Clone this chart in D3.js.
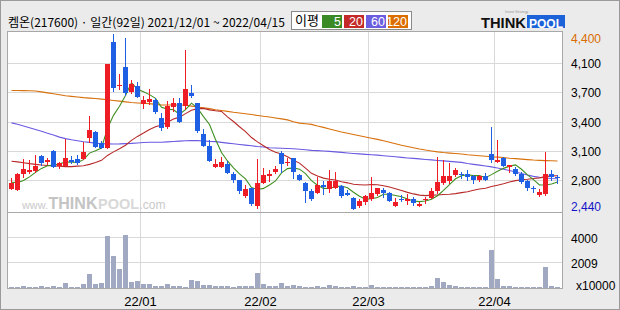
<!DOCTYPE html>
<meta charset="utf-8">
<script src="https://d3js.org/d3.v7.min.js"></script>
<style>
  body { margin: 0; background: #ebebeb; }
  svg { display: block; }
</style>
<div id="chart"></div>
<script>
// ---- data ----
var title = "켐온(217600) · 일간(92일) 2021/12/01 ~ 2022/04/15";

var opens  = [2664,2656,2832,2858,2869,3034,2963,3090,2922,2925,2985,3000,3003,3232,3306,3179,3120,4307,3820,4030,
              3754,3818,3616,3635,3661,3456,3362,3586,3624,3594,3739,3624,3280,3146,2914,2914,2941,2835,2765,2589,
              2672,2474,2735,2810,2854,3071,2959,3008,2821,2735,2645,2623,2709,2661,2679,2698,2619,2567,2474,2522,
              2552,2608,2653,2616,2474,2555,2533,2555,2477,2541,2567,2645,2735,2754,2821,2832,2832,2810,2765,2813,
              3056,2970,3008,2914,2888,2832,2754,2679,2597,2608,2832,2802];
var highs  = [2790,2840,2997,2985,3045,3048,3014,3097,2970,3221,3037,3045,3194,3485,3314,3200,4064,4400,3950,4358,
              3885,3866,3702,3784,3680,3519,3650,3687,3680,4221,3829,3624,3333,3213,2998,3019,2981,2858,2770,2709,
              2680,2998,2896,2877,2918,3093,3014,3014,2830,2740,2660,2795,2754,2877,2854,2709,2653,2580,2549,2597,
              2795,2680,2672,2630,2567,2597,2608,2574,2518,2578,2672,3026,2989,2960,2899,2858,2877,2821,2821,2847,
              3362,3213,3020,2935,2914,2858,2765,2698,2660,3082,2877,2821];
var lows   = [2660,2650,2802,2847,2860,2933,2947,2914,2903,2918,2960,2944,3000,3194,3138,3120,3120,3765,3780,3720,
              3736,3690,3568,3620,3510,3330,3350,3540,3414,3560,3695,3300,3140,2975,2910,2910,2840,2746,2616,2580,
              2480,2455,2730,2754,2840,2858,2933,2784,2760,2522,2540,2615,2611,2634,2670,2580,2595,2440,2466,2496,
              2545,2600,2578,2525,2470,2526,2499,2488,2470,2503,2560,2616,2725,2728,2815,2784,2765,2735,2754,2760,
              2963,2965,2920,2858,2825,2728,2653,2634,2586,2600,2765,2728];
var closes = [2735,2832,2888,2877,2918,2959,2985,2914,2959,3008,2963,2955,3078,3325,3138,3120,4064,3799,3829,3736,
              3837,3698,3664,3672,3523,3344,3594,3624,3418,3784,3706,3317,3149,2981,2944,2970,2847,2761,2642,2664,
              2493,2735,2821,2832,2891,2947,2970,2858,2765,2645,2552,2709,2686,2754,2754,2589,2600,2440,2530,2586,
              2616,2672,2623,2533,2518,2537,2552,2511,2496,2548,2645,2746,2810,2810,2877,2818,2802,2765,2806,2765,
              2989,2989,2925,2933,2832,2746,2672,2660,2634,2832,2802,2787];

// volume, x10000 shares
var volumes = [80,80,160,80,80,160,80,160,80,400,80,80,260,1050,280,400,4100,2570,1470,4180,
               480,560,320,320,160,160,320,160,160,80,640,560,240,240,160,160,160,80,160,160,
               160,1140,320,160,160,400,160,240,160,80,80,160,80,240,160,80,80,160,80,80,
               240,80,80,80,80,80,80,80,80,80,160,800,480,240,160,80,80,80,80,80,
               2980,670,160,160,80,80,80,80,80,1610,160,80];

// moving averages as drawn
var ma5   = [2740,2735,2760,2800,2850,2895,2925,2931,2947,2965,2966,2960,2993,3066,3092,3123,3345,3489,3590,3710,
             3853,3780,3753,3721,3679,3580,3559,3551,3501,3553,3625,3570,3475,3387,3219,3072,2978,2901,2833,2777,
             2681,2659,2671,2709,2754,2845,2892,2900,2886,2837,2758,2706,2671,2669,2691,2698,2677,2627,2583,2549,
             2554,2569,2605,2606,2592,2577,2553,2530,2523,2529,2550,2589,2649,2712,2778,2812,2823,2814,2814,2791,
             2825,2863,2895,2920,2934,2885,2822,2769,2709,2709,2720,2743];
var ma20  = [2975,2968,2958,2948,2940,2933,2928,2923,2920,2915,2915,2920,2925,2940,2960,2985,3040,3080,3115,3154,
             3209,3253,3291,3331,3361,3381,3411,3447,3469,3508,3545,3564,3567,3550,3540,3533,3472,3420,3361,3307,
             3240,3192,3149,3107,3076,3056,3025,2987,2954,2897,2839,2809,2786,2774,2765,2746,2733,2717,2712,2708,
             2714,2711,2701,2686,2667,2647,2626,2609,2595,2590,2595,2597,2603,2606,2612,2623,2634,2650,2664,2673,
             2691,2707,2722,2742,2758,2768,2774,2782,2789,2803,2811,2813];
var ma60  = [3405,3390,3370,3350,3330,3310,3288,3268,3245,3228,3215,3204,3194,3186,3178,3171,3169,3168,3169,3172,
             3175,3180,3185,3187,3187,3188,3192,3196,3200,3204,3208,3206,3201,3197,3195,3186,3178,3171,3163,3155,
             3148,3140,3134,3126,3123,3121,3118,3114,3110,3103,3097,3094,3090,3085,3080,3074,3068,3062,3057,3052,
             3048,3043,3037,3031,3025,3018,3012,3007,3001,2995,2990,2984,2979,2973,2968,2962,2950,2940,2931,2922,
             2912,2900,2885,2871,2855,2838,2820,2805,2795,2788,2782,2778];
var ma120 = [3768,3767,3766,3765,3762,3752,3741,3731,3720,3709,3701,3694,3687,3682,3677,3671,3663,3655,3648,3640,
             3633,3628,3624,3620,3612,3605,3605,3605,3605,3602,3592,3583,3574,3564,3552,3543,3533,3523,3515,3507,
             3498,3488,3478,3471,3460,3449,3438,3418,3402,3395,3388,3370,3354,3337,3320,3303,3289,3275,3261,3247,
             3233,3220,3205,3188,3171,3154,3140,3126,3112,3100,3090,3080,3072,3066,3061,3056,3048,3042,3036,3031,
             3025,3021,3016,3009,3004,2999,2993,2988,2985,2982,2980,2978];

var priceMin = 2440, priceMax = 4400;
var priceTickLabels = ["2,800","3,100","3,400","3,700","4,100"];
var volTickValues = [2009, 4018];
var volTickLabels = ["2009","4000"];
var monthStarts = [22, 42, 60, 81];
var monthLabels = ["22/01","22/02","22/03","22/04"];

var maNames  = ["5","20","60","120"];
var maColors = ["#3f8f22","#b82a2a","#6a5ae2","#d8700c"];
var maLegend = ["#3a8a26","#c42a2a","#6b5ee0","#dc6e00"];
var upColor = "#ee1c24", downColor = "#1f5fe3", volColor = "#a0a8c2";

// ---- layout ----
var W = 620, H = 310;
var plot = {left: 7, right: 562, top: 31, mid: 212, bottom: 288};

var svg = d3.select("#chart").append("svg")
    .attr("width", W).attr("height", H)
    .style("font-family", "'Liberation Sans', Arial, sans-serif");

svg.append("rect")
    .attr("x", 0.5).attr("y", 0.5).attr("width", W - 1).attr("height", H - 1)
    .attr("fill", "#ebebeb").attr("stroke", "#9a9a9a");

svg.append("rect")
    .attr("x", plot.left + 0.5).attr("y", plot.top + 0.5)
    .attr("width", plot.right - plot.left).attr("height", plot.bottom - plot.top)
    .attr("fill", "#fff").attr("stroke", "#a8a8a8");

var x = d3.scaleLinear().domain([0, closes.length - 1]).range([11.5, 557.5]);
var y = d3.scaleLinear().domain([priceMin, priceMax]).range([209, 34]);
var yv = d3.scaleLinear().domain([0, 2009]).range([287.5, 262.5]);

// fit a text to a pixel width by adjusting its font size
function fitText(sel, width) {
  var fs = parseFloat(sel.attr("font-size"));
  var len = sel.node().getComputedTextLength();
  if (len > 0) sel.attr("font-size", (fs * width / len).toFixed(2));
  return sel;
}

// grid
var grid = svg.append("g").attr("stroke", "#d9d9d9").attr("shape-rendering", "crispEdges");
var priceGrid = d3.range(1, 6).map(k => priceMin + k * (priceMax - priceMin) / 6);
priceGrid.forEach(function(v) {
  var gy = Math.round(y(v)) + 0.5;
  grid.append("line").attr("x1", plot.left + 1).attr("x2", plot.right).attr("y1", gy).attr("y2", gy);
});
volTickValues.forEach(function(v) {
  var gy = Math.round(yv(v) - 0.5) + 0.5;
  grid.append("line").attr("x1", plot.left + 1).attr("x2", plot.right).attr("y1", gy).attr("y2", gy);
});
monthStarts.forEach(function(i) {
  var gx = x(i) - 3;
  grid.append("line").attr("x1", gx).attr("x2", gx).attr("y1", plot.top + 1).attr("y2", plot.bottom);
});

// separator between price and volume
svg.append("line")
    .attr("x1", plot.left).attr("x2", plot.right)
    .attr("y1", plot.mid + 0.5).attr("y2", plot.mid + 0.5)
    .attr("stroke", "#a8a8a8");

// watermark, pieces laid end to end
var wmParts = [
  {t: "www.",  size: 12, w: 26, bold: false, fill: "#c9c9c9"},
  {t: "THINK", size: 16, w: 49, bold: true,  fill: "#c4c4c4"},
  {t: "POOL",  size: 16, w: 41, bold: true,  fill: "#d8d8d8"},
  {t: ".com",  size: 12, w: 26, bold: false, fill: "#c9c9c9"}
];
var wmX = 22;
wmParts.forEach(function(p) {
  var t = svg.append("text")
      .attr("x", wmX).attr("y", 209)
      .attr("font-size", p.size).attr("font-weight", p.bold ? "bold" : "normal")
      .attr("fill", p.fill)
      .text(p.t);
  fitText(t, p.w);
  wmX += p.w + 0.5;
});

// moving averages (under candles)
var maSeries = [ma120, ma60, ma20, ma5];
var maSeriesColors = [maColors[3], maColors[2], maColors[1], maColors[0]];
var line = d3.line().x((d, i) => x(i)).y(d => y(d));
maSeries.forEach(function(s, k) {
  svg.append("path")
      .attr("d", line(s))
      .attr("fill", "none")
      .attr("stroke", maSeriesColors[k])
      .attr("stroke-width", 1.1);
});

// candles
var candles = svg.append("g").attr("shape-rendering", "crispEdges");
closes.forEach(function(c, i) {
  var o = opens[i];
  var col = c >= o ? upColor : downColor;
  var cx = Math.floor(x(i)) + 0.5;
  candles.append("line")
      .attr("x1", cx).attr("x2", cx)
      .attr("y1", Math.round(y(highs[i]))).attr("y2", Math.round(y(lows[i])) + 1)
      .attr("stroke", col);
  var top = Math.round(y(Math.max(o, c)));
  var bot = Math.round(y(Math.min(o, c)));
  candles.append("rect")
      .attr("x", x(i) - 2.5).attr("width", 5)
      .attr("y", top).attr("height", Math.max(1, bot - top))
      .attr("fill", col);
});

// volume bars
var vol = svg.append("g").attr("shape-rendering", "crispEdges").attr("fill", volColor);
volumes.forEach(function(v, i) {
  var top = Math.min(Math.round(yv(v)), 287);
  vol.append("rect")
      .attr("x", x(i) - 2.5).attr("width", 5)
      .attr("y", top).attr("height", 288 - top);
});

// right axis labels
var axis = svg.append("g").attr("font-size", 12).attr("fill", "#000");
priceGrid.forEach(function(v, k) {
  axis.append("text").attr("x", 571).attr("y", Math.round(y(v)) + 0.5).attr("dy", "0.36em")
      .text(priceTickLabels[k]);
});
axis.append("text").attr("x", 571).attr("y", 38.5).attr("dy", "0.36em")
    .attr("fill", "#d96c00").text(d3.format(",")(priceMax));
axis.append("text").attr("x", 571).attr("y", 207).attr("dy", "0.36em")
    .attr("fill", "#1414c8").text(d3.format(",")(priceMin));
volTickValues.forEach(function(v, k) {
  axis.append("text").attr("x", 571).attr("y", yv(v) + 0.8).attr("dy", "0.36em")
      .text(volTickLabels[k]);
});
axis.append("text").attr("x", 576).attr("y", 286).attr("dy", "0.36em").text("x10000");

// month labels
monthStarts.forEach(function(i, k) {
  svg.append("text")
      .attr("x", x(i) - 3).attr("y", 301.5).attr("dy", "0.36em")
      .attr("text-anchor", "middle").attr("font-size", 13)
      .text(monthLabels[k]);
});

// header
var head = svg.append("text")
    .attr("x", 8).attr("y", 26.5)
    .attr("font-family", "'Noto Sans CJK KR', sans-serif").attr("font-size", 13)
    .text(title);
fitText(head, 277);

// legend box
svg.append("rect").attr("x", 291.5).attr("y", 11.5).attr("width", 120).attr("height", 18)
    .attr("fill", "#fff").attr("stroke", "#8a8a8a");
var leg = svg.append("text").attr("x", 295).attr("y", 25)
    .attr("font-family", "'Noto Sans CJK KR', sans-serif").attr("font-size", 12)
    .text("이평");
fitText(leg, 24);
var legX = [322, 344, 366, 388];
maNames.forEach(function(n, k) {
  svg.append("rect").attr("x", legX[k]).attr("y", 15).attr("width", 20).attr("height", 13)
      .attr("fill", maLegend[k]);
  svg.append("text").attr("x", legX[k] + 19).attr("y", 26).attr("text-anchor", "end")
      .attr("font-size", 12.5).attr("fill", "#fff").text(n);
});

// logo
var think = svg.append("text").attr("x", 481).attr("y", 28)
    .attr("font-size", 16).attr("font-weight", "bold").attr("fill", "#111")
    .text("THINK");
fitText(think, 45);
svg.append("rect").attr("x", 527).attr("y", 15).attr("width", 38).attr("height", 13)
    .attr("fill", "#1c62d8");
var pool = svg.append("text").attr("x", 529).attr("y", 27.5)
    .attr("font-size", 15).attr("font-weight", "bold").attr("fill", "#fff")
    .text("POOL");
fitText(pool, 34);
svg.append("text").attr("x", 505).attr("y", 12.5)
    .attr("font-size", 3.5).attr("fill", "#999").text("Invest Strategy");
</script>
